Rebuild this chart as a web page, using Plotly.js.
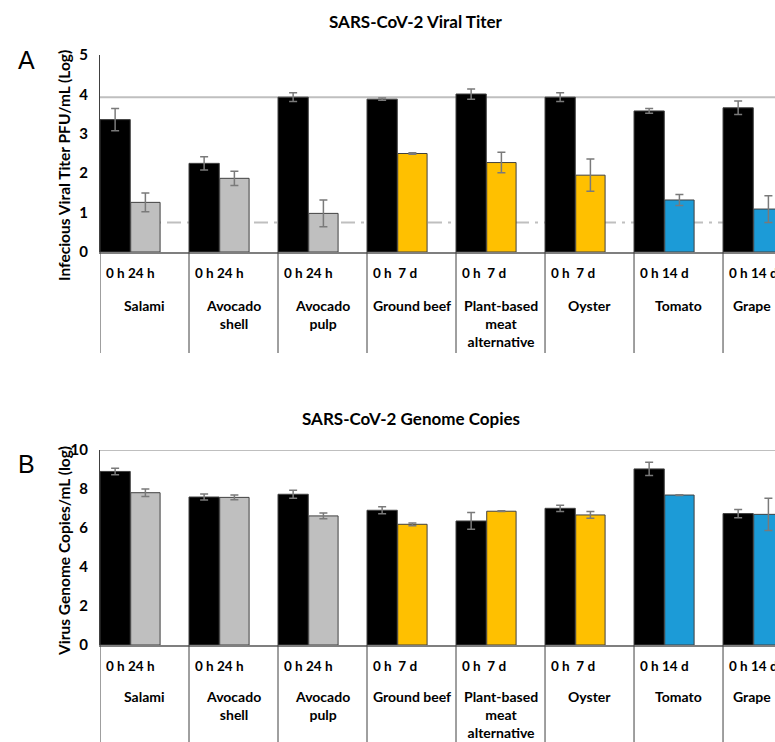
<!DOCTYPE html>
<html>
<head>
<meta charset="utf-8">
<script src="https://cdn.plot.ly/plotly-3.0.1.min.js"></script>
<style>html,body{margin:0;padding:0;background:#fff}#chart{width:775px;height:742px}</style>
</head>
<body>
<div id="chart"></div>
<script>
// ---- data ----
const categories = ["Salami", "Avocado<br>shell", "Avocado<br>pulp", "Ground beef", "Plant-based<br>meat<br>alternative", "Oyster", "Tomato", "Grape"];
const timeLabels = ["0 h 24 h", "0 h 24 h", "0 h 24 h", "0 h&nbsp;&nbsp;7 d", "0 h&nbsp;&nbsp;7 d", "0 h&nbsp;&nbsp;7 d", "0 h 14 d", "0 h 14 d"];
const titer0 = [3.36, 2.25, 3.93, 3.88, 4.01, 3.93, 3.58, 3.66];
const titer0Err = [0.28, 0.17, 0.11, 0.03, 0.13, 0.11, 0.06, 0.17];
const titerEnd = [1.26, 1.87, 0.98, 2.50, 2.27, 1.95, 1.32, 1.09];
const titerEndErr = [0.24, 0.18, 0.34, 0.02, 0.26, 0.41, 0.14, 0.34];
const genome0 = [8.90, 7.59, 7.73, 6.91, 6.36, 7.01, 9.03, 6.74];
const genome0Err = [0.17, 0.15, 0.20, 0.18, 0.43, 0.16, 0.34, 0.21];
const genomeEnd = [7.81, 7.57, 6.62, 6.19, 6.86, 6.67, 7.69, 6.70];
const genomeEndErr = [0.19, 0.12, 0.15, 0.07, 0.02, 0.17, 0.02, 0.83];
const endColors = ["#BFBFBF", "#BFBFBF", "#BFBFBF", "#FFC000", "#FFC000", "#FFC000", "#1C9BD7", "#1C9BD7"];
const titerInitialLine = 3.93;   // solid grey reference line
const titerLimitLine = 0.75;     // dash-dot detection limit
const genomeTopLine = 10;

// ---- layout helpers ----
const W = 775, H = 742, ML = 100, MR = 0;
const FONT = "Lato, 'Open Sans', sans-serif";
const py = p => 1 - p / H;                    // pixel y -> paper fraction
const px = p => (p - ML) / (W - ML - MR);     // pixel x -> paper fraction
const idx = categories.map((_, i) => i);
const x0 = idx.map(i => i + 0.17);
const x1 = idx.map(i => i + 0.51);
const w0 = idx.map(() => 0.34);
const w1 = idx.map(() => 0.33);
const XMAX = 7.584;

function barPair(y0, e0, y1, e1, xa, ya) {
  const errStyle = {type: 'data', visible: true, color: '#7a7a7a', thickness: 1.5, width: 4};
  return [
    {type: 'bar', x: x0, y: y0, width: w0, xaxis: xa, yaxis: ya,
     marker: {color: '#000000', line: {color: '#404040', width: 1}},
     error_y: Object.assign({array: e0}, errStyle), hoverinfo: 'y'},
    {type: 'bar', x: x1, y: y1, width: w1, xaxis: xa, yaxis: ya,
     marker: {color: endColors, line: {color: '#404040', width: 1}},
     error_y: Object.assign({array: e1}, errStyle), hoverinfo: 'y'}
  ];
}

const data = [
  ...barPair(titer0, titer0Err, titerEnd, titerEndErr, 'x', 'y'),
  ...barPair(genome0, genome0Err, genomeEnd, genomeEndErr, 'x2', 'y2')
];

// panel geometry (pixels)
const topZero = 252, topMax = 55, topLabelBottom = 353;
const botZero = 645, botMax = 450, botLabelBottom = 742;

const shapes = [];
shapes.push({type: 'line', xref: 'x', yref: 'y', x0: 0, x1: XMAX, y0: titerInitialLine, y1: titerInitialLine,
             line: {color: '#BFBFBF', width: 2}, layer: 'below'});
shapes.push({type: 'line', xref: 'x', yref: 'y', x0: 0, x1: XMAX, y0: titerLimitLine, y1: titerLimitLine,
             line: {color: '#BFBFBF', width: 2, dash: '3px,6px,14px,6px'}, layer: 'below'});
shapes.push({type: 'line', xref: 'x2', yref: 'y2', x0: 0, x1: XMAX, y0: genomeTopLine, y1: genomeTopLine,
             line: {color: '#BFBFBF', width: 2}, layer: 'below'});
idx.forEach(i => {
  shapes.push({type: 'line', xref: 'x', yref: 'paper', x0: i, x1: i, y0: py(topZero), y1: py(topLabelBottom),
               line: {color: '#404040', width: 1}});
  shapes.push({type: 'line', xref: 'x2', yref: 'paper', x0: i, x1: i, y0: py(botZero), y1: py(botLabelBottom),
               line: {color: '#404040', width: 1}});
});

const annotations = [];
const timeFont = {family: FONT, size: 13.5, color: '#000', weight: 'bold'};
const nameFont = {family: FONT, size: 14, color: '#000', weight: 'bold'};
function catLabels(xref, timeY, nameY) {
  idx.forEach(i => {
    const center = (i + Math.min(i + 1, XMAX)) / 2 + (i + 1 > XMAX ? 0.03 : 0);
    annotations.push({xref: xref, yref: 'paper', x: i + 0.04, y: py(timeY), xanchor: 'left', yanchor: 'middle',
                      text: timeLabels[i], showarrow: false, font: timeFont});
    annotations.push({xref: xref, yref: 'paper', x: center, y: py(nameY), xanchor: 'center', yanchor: 'top',
                      text: categories[i], showarrow: false, font: nameFont, align: 'center'});
  });
}
catLabels('x', 273, 295);
catLabels('x2', 666, 686);

const titleFont = {family: FONT, size: 17, color: '#000', weight: 'bold'};
annotations.push({xref: 'paper', yref: 'paper', x: px(416), y: py(22), xanchor: 'center', yanchor: 'middle',
                  text: 'SARS-CoV-2 Viral Titer', showarrow: false, font: titleFont});
annotations.push({xref: 'paper', yref: 'paper', x: px(411), y: py(418), xanchor: 'center', yanchor: 'middle',
                  text: 'SARS-CoV-2 Genome Copies', showarrow: false, font: titleFont});
annotations.push({xref: 'paper', yref: 'paper', x: px(26), y: py(60), xanchor: 'center', yanchor: 'middle',
                  text: 'A', showarrow: false, font: {family: 'Liberation Sans, Arial, sans-serif', size: 25, color: '#000'}});
annotations.push({xref: 'paper', yref: 'paper', x: px(26), y: py(464), xanchor: 'center', yanchor: 'middle',
                  text: 'B', showarrow: false, font: {family: 'Liberation Sans, Arial, sans-serif', size: 25, color: '#000'}});
const axTitleFont = {family: FONT, size: 15.5, color: '#000', weight: 'bold'};
annotations.push({xref: 'paper', yref: 'paper', x: px(64), y: py(166), xanchor: 'center', yanchor: 'middle', textangle: -90,
                  text: 'Infecious Viral Titer PFU/mL (Log)', showarrow: false, font: axTitleFont});
annotations.push({xref: 'paper', yref: 'paper', x: px(64), y: py(551), xanchor: 'center', yanchor: 'middle', textangle: -90,
                  text: 'Virus Genome Copies/mL (log)', showarrow: false, font: axTitleFont});

const xaxisBase = {range: [0, XMAX], showticklabels: false, showgrid: false, zeroline: false, ticks: '',
                   showline: true, linecolor: '#7f7f7f', linewidth: 1.5, fixedrange: true};
const yaxisBase = {showgrid: false, zeroline: false, ticks: '', showline: true, linecolor: '#404040', linewidth: 1,
                   tickfont: {family: FONT, size: 15, color: '#000', weight: 'bold'}, ticklabelstandoff: 8, fixedrange: true};

const layout = {
  width: W, height: H,
  margin: {l: ML, r: MR, t: 0, b: 0},
  paper_bgcolor: '#fff', plot_bgcolor: 'rgba(0,0,0,0)',
  showlegend: false, barmode: 'overlay',
  font: {family: FONT},
  xaxis: Object.assign({anchor: 'y'}, xaxisBase),
  xaxis2: Object.assign({anchor: 'y2'}, xaxisBase),
  yaxis: Object.assign({anchor: 'x', domain: [py(topZero), py(topMax)], range: [0, 5], dtick: 1}, yaxisBase),
  yaxis2: Object.assign({anchor: 'x2', domain: [py(botZero), py(botMax)], range: [0, 10], dtick: 2}, yaxisBase),
  shapes: shapes,
  annotations: annotations
};

Plotly.newPlot('chart', data, layout, {displayModeBar: false, staticPlot: true});
</script>
</body>
</html>
